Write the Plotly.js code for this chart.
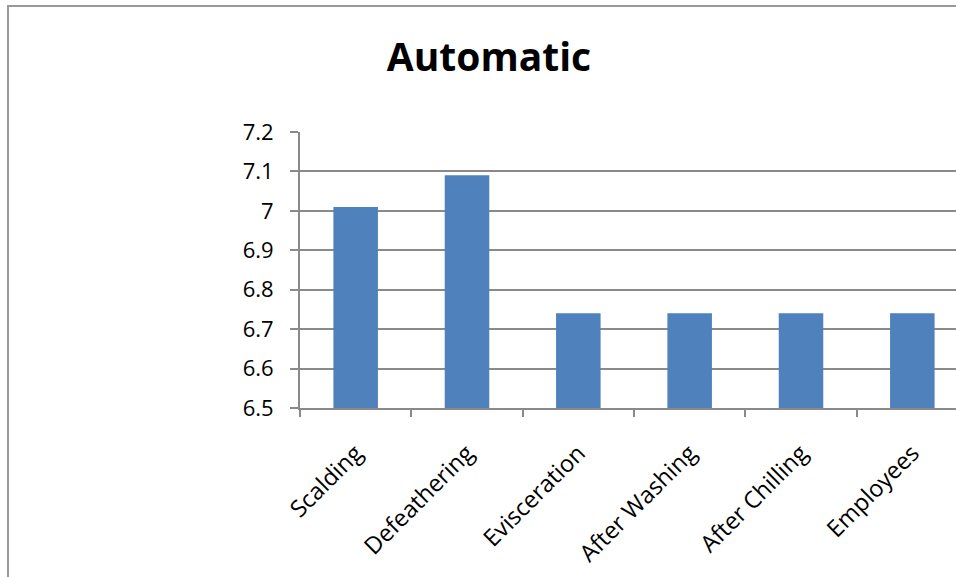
<!DOCTYPE html>
<html>
<head>
<meta charset="utf-8">
<script src="https://cdn.plot.ly/plotly-3.0.1.min.js"></script>
<style>
  html, body { margin: 0; padding: 0; overflow: hidden; background: #fff; }
  #wrap { position: relative; width: 956px; height: 577px; overflow: hidden; }
  #chart { position: absolute; left: 0; top: 0; }
  #frame { position: absolute; left: 7px; top: 5px; width: 1100px; height: 1000px;
           border: 2px solid #999; pointer-events: none; box-sizing: border-box; }
</style>
</head>
<body>
<div id="wrap">
  <div id="chart"></div>
  <div id="frame"></div>
</div>
<script>
const categories = ['Scalding', 'Defeathering', 'Evisceration', 'After Washing', 'After Chilling', 'Employees'];
const values = [7.01, 7.09, 6.74, 6.74, 6.74, 6.74];
const yTickVals = [6.5, 6.6, 6.7, 6.8, 6.9, 7.0, 7.1, 7.2];
const yTickText = ['6.5', '6.6', '6.7', '6.8', '6.9', '7', '7.1', '7.2'];
const chartTitle = 'Automatic';

const FONT = 'Open Sans, Lato, Liberation Sans, sans-serif';
const AXIS = '#8a8a8a';

const trace = {
  type: 'bar',
  x: categories,
  y: values,
  marker: { color: '#4F81BD', line: { width: 0 } },
  hoverinfo: 'x+y'
};

const layout = {
  width: 980,
  height: 577,
  margin: { l: 300, r: 12, t: 132, b: 169, pad: 0 },
  paper_bgcolor: '#ffffff',
  plot_bgcolor: '#ffffff',
  bargap: 0.6,
  showlegend: false,
  font: { family: FONT, color: '#000000', size: 20 },
  title: {
    text: '<b>' + chartTitle + '</b>',
    font: { family: FONT, size: 39, color: '#000000' },
    xref: 'container', yref: 'container',
    x: 489 / 980, xanchor: 'center',
    y: 1 - 57 / 577, yanchor: 'middle'
  },
  xaxis: {
    type: 'category',
    showline: true, linecolor: AXIS, linewidth: 2,
    ticks: 'outside', tickson: 'boundaries', ticklen: 7, tickcolor: AXIS, tickwidth: 2,
    tickangle: -45,
    ticklabelstandoff: 20,
    tickfont: { family: FONT, size: 23.5, color: '#000' },
    showgrid: false, zeroline: false,
    fixedrange: true
  },
  yaxis: {
    range: [6.5, 7.2],
    tickmode: 'array', tickvals: yTickVals, ticktext: yTickText,
    showline: true, linecolor: AXIS, linewidth: 2,
    ticks: 'outside', ticklen: 8, tickcolor: AXIS, tickwidth: 2,
    ticklabelstandoff: 12,
    showgrid: true, gridcolor: AXIS, gridwidth: 2,
    zeroline: false,
    tickfont: { family: FONT, size: 22, color: '#000' },
    fixedrange: true
  }
};

Plotly.newPlot('chart', [trace], layout, { displayModeBar: false, staticPlot: true });
</script>
</body>
</html>
